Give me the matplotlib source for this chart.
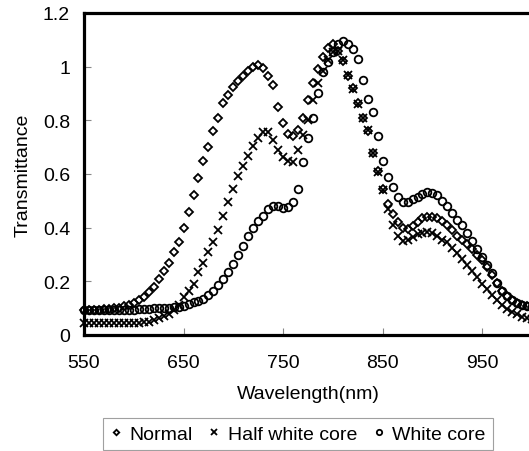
import numpy as np
import matplotlib
matplotlib.use("Agg")
import matplotlib.pyplot as plt

# wavelength grid (nm), one reading every 5 nm
wavelength = list(range(550, 1001, 5))

normal = [
    0.095, 0.095, 0.095, 0.095, 0.096, 0.097, 0.099, 0.102, 0.107, 0.112,
    0.120, 0.130, 0.142, 0.160, 0.180, 0.210, 0.240, 0.270, 0.310, 0.345,
    0.400, 0.460, 0.520, 0.585, 0.650, 0.700, 0.760, 0.810, 0.865, 0.895,
    0.925, 0.945, 0.965, 0.985, 1.000, 1.005, 0.995, 0.965, 0.930, 0.850,
    0.790, 0.750, 0.740, 0.765, 0.810, 0.875, 0.940, 0.990, 1.035, 1.070,
    1.085, 1.060, 1.020, 0.965, 0.920, 0.865, 0.810, 0.760, 0.680, 0.610,
    0.545, 0.490, 0.450, 0.420, 0.400, 0.395, 0.405, 0.420, 0.435, 0.440,
    0.440, 0.435, 0.425, 0.410, 0.390, 0.370, 0.355, 0.340, 0.320, 0.300,
    0.280, 0.255, 0.225, 0.192, 0.165, 0.145, 0.130, 0.120, 0.112, 0.107,
    0.105,
]

half_white = [
    0.045, 0.045, 0.045, 0.045, 0.045, 0.045, 0.045, 0.045, 0.045, 0.045,
    0.045, 0.045, 0.047, 0.050, 0.055, 0.062, 0.070, 0.080, 0.095, 0.110,
    0.140, 0.165, 0.190, 0.235, 0.270, 0.310, 0.347, 0.390, 0.445, 0.495,
    0.545, 0.593, 0.630, 0.667, 0.705, 0.735, 0.755, 0.755, 0.725, 0.690,
    0.665, 0.650, 0.645, 0.690, 0.745, 0.800, 0.875, 0.940, 0.985, 1.025,
    1.055, 1.060, 1.025, 0.970, 0.915, 0.860, 0.810, 0.765, 0.680, 0.607,
    0.540, 0.470, 0.410, 0.370, 0.350, 0.355, 0.365, 0.375, 0.380, 0.383,
    0.380, 0.370, 0.355, 0.345, 0.325, 0.305, 0.285, 0.260, 0.237, 0.215,
    0.190, 0.170, 0.150, 0.130, 0.113, 0.098, 0.087, 0.077, 0.068, 0.062,
    0.058,
]

white_core = [
    0.095, 0.095, 0.095, 0.095, 0.095, 0.095, 0.095, 0.095, 0.095, 0.095,
    0.095, 0.096, 0.097, 0.098, 0.099, 0.100, 0.100, 0.102, 0.104, 0.106,
    0.108, 0.115, 0.123, 0.128, 0.134, 0.150, 0.165, 0.185, 0.209, 0.235,
    0.265, 0.300, 0.330, 0.370, 0.400, 0.425, 0.445, 0.470, 0.480, 0.480,
    0.475, 0.478, 0.495, 0.545, 0.645, 0.735, 0.810, 0.900, 0.980, 1.017,
    1.055, 1.085, 1.095, 1.085, 1.065, 1.030, 0.950, 0.880, 0.830, 0.740,
    0.650, 0.590, 0.550, 0.515, 0.495, 0.495, 0.505, 0.515, 0.525, 0.533,
    0.530, 0.520, 0.500, 0.480, 0.455, 0.430, 0.410, 0.380, 0.350, 0.320,
    0.290, 0.260, 0.230, 0.195, 0.165, 0.145, 0.130, 0.120, 0.113, 0.108,
    0.105,
]

x_ticks = [550, 650, 750, 850, 950]
y_ticks = [0, 0.2, 0.4, 0.6, 0.8, 1.0, 1.2]
y_tick_labels = ["0", "0.2", "0.4", "0.6", "0.8", "1", "1.2"]

plt.rcParams["font.family"] = ["Liberation Sans", "DejaVu Sans"]

fig = plt.figure(figsize=(5.29, 4.52), dpi=100)
ax = fig.add_axes([84 / 529, 116 / 452, 448 / 529, 322 / 452])

# open black markers, no connecting lines
ax.plot(wavelength, normal, linestyle="none", marker="D", markersize=4,
        markerfacecolor="none", markeredgecolor="black", markeredgewidth=1.3,
        clip_on=False, label="Normal")
ax.plot(wavelength, half_white, linestyle="none", marker="x", markersize=6,
        color="black", markeredgewidth=1.3, clip_on=False, label="Half white core")
ax.plot(wavelength, white_core, linestyle="none", marker="o", markersize=5.5,
        markerfacecolor="none", markeredgecolor="black", markeredgewidth=1.3,
        clip_on=False, label="White core")

ax.set_xlim(550, 1000)
ax.set_ylim(0, 1.2)
ax.set_xticks(x_ticks)
ax.set_yticks(y_ticks)
ax.set_yticklabels(y_tick_labels)
ax.tick_params(direction="in", length=5, width=0.8, colors="#888888",
               labelcolor="black", labelsize=14)
ax.tick_params(axis="x", pad=14)
ax.tick_params(axis="y", pad=10)

for side in ["left", "top", "bottom"]:
    ax.spines[side].set_linewidth(2.3)
    ax.spines[side].set_color("black")
ax.spines["right"].set_linewidth(0.8)
ax.spines["right"].set_color("#aaaaaa")

ax.set_xlabel("Wavelength(nm)", fontsize=14, labelpad=10)
ax.set_ylabel("Transmittance", fontsize=14, labelpad=8)

handles, labels = ax.get_legend_handles_labels()
leg = fig.legend(handles, labels, loc="center", bbox_to_anchor=(298 / 529, 17 / 452),
                 ncol=3, fontsize=14, frameon=True, fancybox=False, handlelength=0.6,
                 handletextpad=0.4, columnspacing=0.8, borderpad=0.35, markerscale=0.7)
leg.get_frame().set_edgecolor("#888888")
leg.get_frame().set_linewidth(0.8)

fig.savefig("out.png", dpi=100)
